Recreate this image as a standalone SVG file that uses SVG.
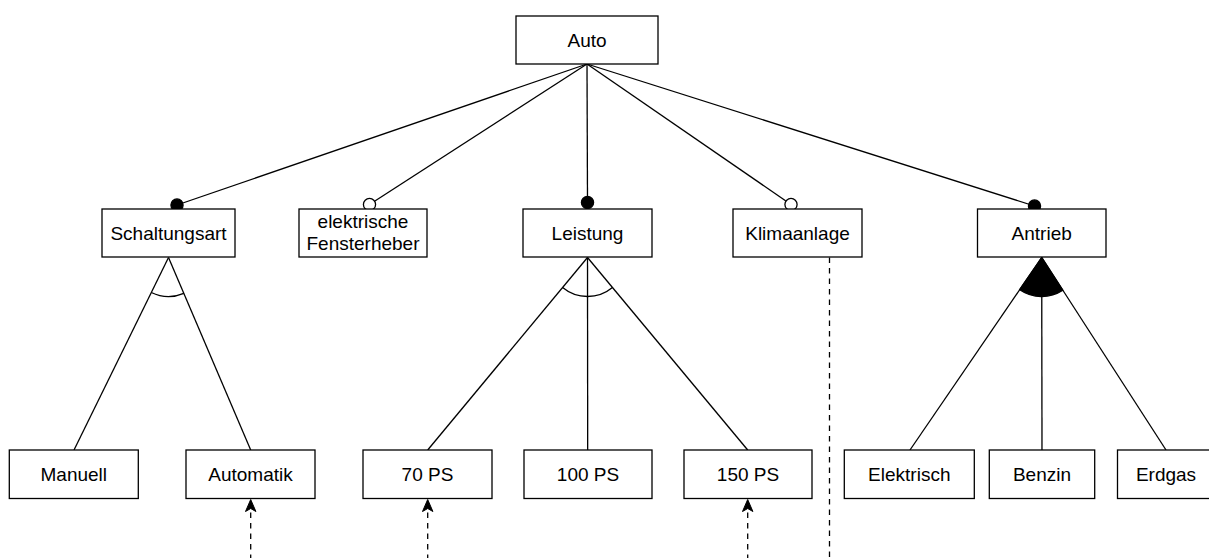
<svg xmlns="http://www.w3.org/2000/svg" width="1209" height="558" viewBox="0 0 1209 558">
<defs>
<style>
.box{fill:#fff;stroke:#000;stroke-width:1.3}
.lbl{font-family:"Liberation Sans",Arial,sans-serif;font-size:19px;fill:#000;text-anchor:middle}
.ln{fill:none;stroke:#000;stroke-width:1.3}
.dash{fill:none;stroke:#000;stroke-width:1.3;stroke-dasharray:5.5 5}
.dotf{fill:#000;stroke:#000;stroke-width:1.3}
.doto{fill:#fff;stroke:#000;stroke-width:1.3}
</style>
<marker id="arr" viewBox="0 0 14 12" refX="13" refY="6" markerWidth="14" markerHeight="12" markerUnits="userSpaceOnUse" orient="auto">
<path d="M13,6 L1,0.8 L4,6 L1,11.2 Z" fill="#000" stroke="#000" stroke-width="1"/>
</marker>
</defs>
<g id="connectors">
<line class="ln" x1="587" y1="64" x2="177" y2="205"/>
<line class="ln" x1="587" y1="64" x2="369.5" y2="204.5"/>
<line class="ln" x1="587" y1="64" x2="587.5" y2="202.5"/>
<line class="ln" x1="587" y1="64" x2="791" y2="204.5"/>
<line class="ln" x1="587" y1="64" x2="1034.5" y2="206"/>
<circle class="dotf" cx="177" cy="205" r="6.1"/>
<circle class="doto" cx="369.5" cy="204.5" r="6.1"/>
<circle class="dotf" cx="587.5" cy="202.5" r="6.1"/>
<circle class="doto" cx="791" cy="204.5" r="6.1"/>
<circle class="dotf" cx="1034.5" cy="206" r="6.1"/>
<line class="ln" x1="168.5" y1="257.5" x2="74" y2="450"/>
<line class="ln" x1="168.5" y1="257.5" x2="250.7" y2="450"/>
<path class="ln" d="M151.3,292.5 A39,39 0 0 0 183.8,293.4"/>
<line class="ln" x1="587.5" y1="257.5" x2="427.7" y2="450"/>
<line class="ln" x1="587.5" y1="257.5" x2="587.7" y2="450"/>
<line class="ln" x1="587.5" y1="257.5" x2="747.7" y2="450"/>
<path class="ln" d="M562.6,287.5 A39,39 0 0 0 612.45,287.5"/>
<line class="ln" x1="1041.7" y1="257.5" x2="910" y2="450"/>
<line class="ln" x1="1041.7" y1="257.5" x2="1042" y2="450"/>
<line class="ln" x1="1041.7" y1="257.5" x2="1166" y2="450"/>
<path d="M1041.7,257.5 L1019.7,289.7 A39,39 0 0 0 1062.9,290.3 Z" fill="#000" stroke="#000" stroke-width="1.3"/>
<line class="dash" x1="829.5" y1="257.5" x2="829.5" y2="560"/>
<line class="dash" x1="250.7" y1="560" x2="250.7" y2="499.5" marker-end="url(#arr)"/>
<line class="dash" x1="427.7" y1="560" x2="427.7" y2="499.5" marker-end="url(#arr)"/>
<line class="dash" x1="747.7" y1="560" x2="747.7" y2="499.5" marker-end="url(#arr)"/>
</g>
<g id="auto"><rect class="box" x="516" y="16" width="142" height="48"/><text class="lbl" x="587" y="46.7">Auto</text></g>
<g id="schaltungsart"><rect class="box" x="102" y="209" width="133" height="48"/><text class="lbl" x="168.5" y="239.7">Schaltungsart</text></g>
<g id="fensterheber"><rect class="box" x="299" y="209" width="128" height="48"/><text class="lbl" x="363" y="227.5">elektrische</text><text class="lbl" x="363" y="250">Fensterheber</text></g>
<g id="leistung"><rect class="box" x="523" y="209" width="129" height="48"/><text class="lbl" x="587.5" y="239.7">Leistung</text></g>
<g id="klimaanlage"><rect class="box" x="733" y="209" width="129" height="48"/><text class="lbl" x="797.5" y="239.7">Klimaanlage</text></g>
<g id="antrieb"><rect class="box" x="977.5" y="209" width="128.5" height="48"/><text class="lbl" x="1041.7" y="239.7">Antrieb</text></g>
<g id="manuell"><rect class="box" x="9.3" y="450" width="129" height="48.5"/><text class="lbl" x="73.8" y="480.9">Manuell</text></g>
<g id="automatik"><rect class="box" x="186" y="450" width="129" height="48.5"/><text class="lbl" x="250.5" y="480.9">Automatik</text></g>
<g id="ps70"><rect class="box" x="363" y="450" width="129" height="48.5"/><text class="lbl" x="427.5" y="480.9">70 PS</text></g>
<g id="ps100"><rect class="box" x="524" y="450" width="128" height="48.5"/><text class="lbl" x="588" y="480.9">100 PS</text></g>
<g id="ps150"><rect class="box" x="684" y="450" width="128" height="48.5"/><text class="lbl" x="748" y="480.9">150 PS</text></g>
<g id="elektrisch"><rect class="box" x="844.3" y="450" width="130" height="48.5"/><text class="lbl" x="909.3" y="480.9">Elektrisch</text></g>
<g id="benzin"><rect class="box" x="989.3" y="450" width="105.4" height="48.5"/><text class="lbl" x="1042" y="480.9">Benzin</text></g>
<g id="erdgas"><rect class="box" x="1117.5" y="450" width="97" height="48.5"/><text class="lbl" x="1166" y="480.9">Erdgas</text></g>
</svg>
